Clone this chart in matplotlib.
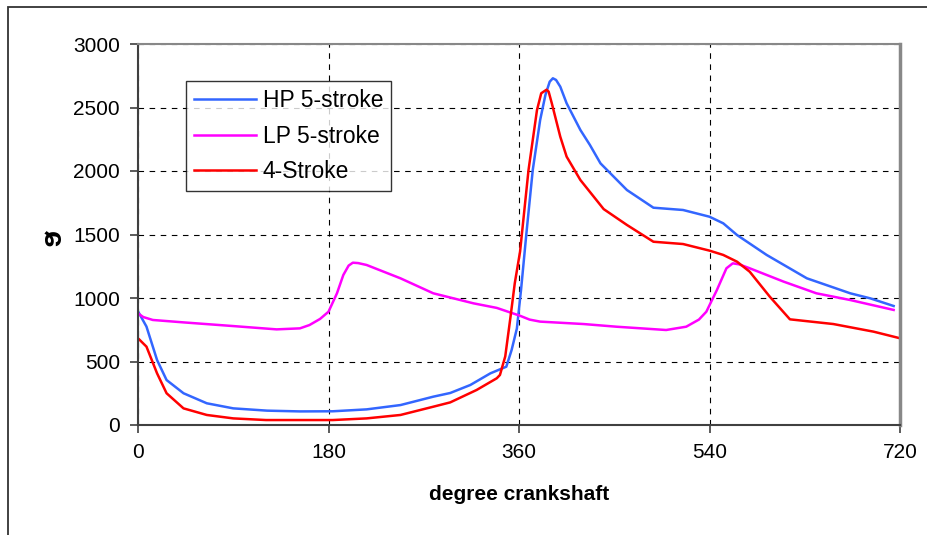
import matplotlib.pyplot as plt
from matplotlib.patches import Rectangle

plt.rcParams['font.family'] = ['Liberation Sans', 'DejaVu Sans']

# crank angle (deg) and values for each cycle
hp_deg = [0, 8, 18, 27, 43, 65, 90, 122, 153, 184, 216, 248, 279, 295, 314, 333, 348, 353,
          358, 362, 367, 373, 380, 385, 389, 392, 395, 399, 405, 418, 427, 437, 462, 487, 515, 540, 553,
          566, 594, 632, 673, 692, 714]
hp_val = [895, 775, 512, 354, 250, 171, 131, 113, 107, 108, 123, 157, 223, 252, 315, 407, 459, 590,
          760, 1070, 1509, 2008, 2402, 2600, 2703, 2730, 2717, 2664, 2533, 2323, 2205, 2060, 1850, 1711, 1693, 1640, 1588,
          1496, 1339, 1155, 1037, 997, 937]

lp_deg = [0, 5, 14, 43, 90, 131, 153, 162, 172, 180, 188, 194, 199, 203, 208, 216, 248, 279, 317, 339, 361, 370, 380,
          421, 452, 499, 518, 530, 537, 547, 556, 562, 568, 578, 610, 641, 673, 714]
lp_val = [879, 850, 827, 808, 779, 753, 761, 787, 835, 892, 1037, 1181, 1255, 1278, 1275, 1260, 1155, 1037, 958, 922, 860, 830, 814,
          795, 774, 748, 774, 830, 892, 1063, 1234, 1273, 1265, 1234, 1129, 1037, 984, 906]

four_deg = [0, 8, 18, 27, 43, 65, 90, 121, 184, 216, 248, 279, 295, 320, 339, 342, 347, 352, 356,
            361, 369, 377, 381, 386, 388, 391, 399, 405, 418, 440, 462, 487, 515, 540, 553, 566, 578, 597, 616,
            657, 695, 720]
four_val = [683, 617, 407, 250, 131, 79, 52, 39, 39, 52, 79, 144, 178, 276, 368, 394, 540, 853, 1116,
            1365, 2008, 2480, 2612, 2640, 2625, 2533, 2270, 2113, 1929, 1700, 1575, 1443, 1425, 1373, 1339, 1286, 1207, 1010, 832,
            795, 735, 683]

x_ticks = [0, 180, 360, 540, 720]
y_ticks = [0, 500, 1000, 1500, 2000, 2500, 3000]

fig = plt.figure(figsize=(9.27, 5.35), dpi=100)
ax = fig.add_axes([138 / 927, 110 / 535, 762 / 927, 381 / 535])

# outer chart frame
fig.patches.append(Rectangle((8 / 927, -0.05), 1.2, (535 - 7) / 535 + 0.05,
                             transform=fig.transFigure, fill=False,
                             edgecolor='#333333', linewidth=1.3))

ax.plot(hp_deg, hp_val, color='#3366ff', lw=1.8, label='HP 5-stroke')
ax.plot(lp_deg, lp_val, color='#ff00ff', lw=1.8, label='LP 5-stroke')
ax.plot(four_deg, four_val, color='#ff0000', lw=1.8, label='4-Stroke')

ax.set_xlim(0, 720)
ax.set_ylim(0, 3000)
ax.set_xticks(x_ticks)
ax.set_yticks(y_ticks)
ax.grid(True, color='black', linestyle=(0, (5, 5)), linewidth=0.8)
ax.set_axisbelow(True)

ax.tick_params(axis='both', labelsize=15, length=6, width=1.2, color='#404040', pad=7)
ax.spines['left'].set_color('#404040')
ax.spines['bottom'].set_color('#404040')
ax.spines['left'].set_linewidth(1.5)
ax.spines['bottom'].set_linewidth(1.5)
ax.spines['top'].set_color('#888888')
ax.spines['top'].set_linewidth(1.5)
ax.spines['right'].set_color('#888888')
ax.spines['right'].set_linewidth(2.5)

ax.set_xlabel('degree crankshaft', fontsize=15, fontweight='bold')
ax.xaxis.set_label_coords(0.5, -0.157)
ax.set_ylabel('\u0255', fontsize=21, fontweight='bold', rotation=270,
              ha='center', va='center')
ax.yaxis.set_label_coords(-0.112, 0.49)

leg = ax.legend(loc='upper left', bbox_to_anchor=(186 / 927, 1 - 81 / 535),
                bbox_transform=fig.transFigure, fontsize=16.5, frameon=True, fancybox=False,
                edgecolor='black', handlelength=2.7, handletextpad=0.3, labelspacing=0.55,
                borderpad=0.35, borderaxespad=0)
leg.get_frame().set_linewidth(1.0)

fig.savefig('out.png', dpi=100)
